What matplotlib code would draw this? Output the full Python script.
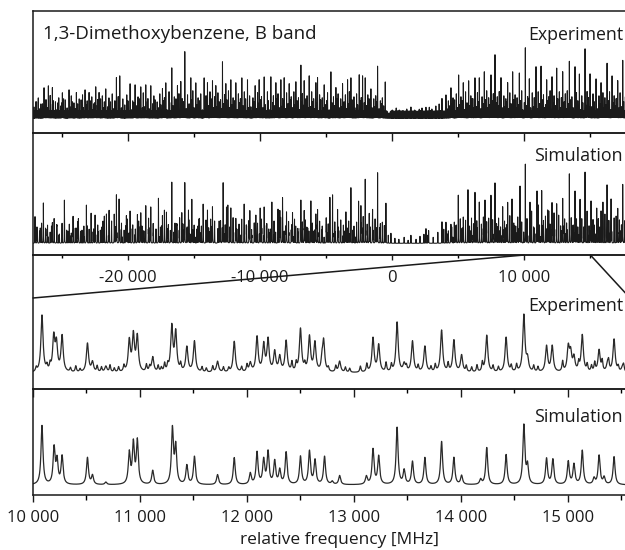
import numpy as np
import matplotlib
matplotlib.use("Agg")
import matplotlib.pyplot as plt
from matplotlib.patches import ConnectionPatch
from matplotlib.ticker import MultipleLocator, FuncFormatter

plt.rcParams['font.family'] = ['Open Sans', 'DejaVu Sans']

# ---- data: (frequency MHz, peak height) ----
# full band, experiment
exp_full_peaks = [(-26364, 28), (-26036, 30), (-25733, 29), (-24975, 23), (-24470, 26), (-23915, 24),
                  (-23258, 26), (-22955, 24), (-22450, 29), (-22197, 24), (-21692, 27), (-20884, 38),
                  (-20631, 41), (-19849, 33), (-19470, 31), (-19040, 29), (-18662, 31), (-18283, 31),
                  (-17399, 28), (-17146, 33), (-16692, 48), (-16263, 31), (-16010, 34), (-15707, 66),
                  (-15252, 38), (-14874, 33), (-14243, 39), (-13990, 33), (-13611, 36), (-13359, 31),
                  (-12854, 54), (-12601, 33), (-12222, 36), (-11843, 34), (-11389, 39), (-10960, 36),
                  (-10379, 31), (-10076, 36), (-9697, 40), (-9192, 39), (-8813, 34), (-8434, 36),
                  (-8182, 38), (-7803, 33), (-7298, 34), (-6919, 52), (-6667, 36), (-6288, 40),
                  (-5783, 34), (-5657, 39), (-5152, 31), (-4646, 44), (-4267, 29), (-3763, 33),
                  (-3384, 36), (-3131, 39), (-2500, 41), (-2247, 41), (-2045, 39), (-1616, 27),
                  (-1111, 51), (-530, 34), (530, 6), (1414, 9), (2045, 7), (2551, 9), (2803, 9),
                  (3763, 18), (4066, 21), (4444, 28), (5025, 42), (5379, 34), (5783, 36), (6263, 39),
                  (6591, 39), (6970, 44), (7475, 42), (7778, 61), (8232, 38), (8737, 34), (9116, 44),
                  (9621, 44), (10076, 68), (10379, 38), (10884, 49), (11263, 51), (11692, 36),
                  (12096, 39), (12449, 49), (12904, 44), (13409, 56), (13838, 49), (14167, 43),
                  (14596, 67), (14975, 43), (15429, 38), (15808, 33), (16263, 54), (16641, 41),
                  (17071, 36), (17449, 57)]
exp_full_minor = [(-27000, 14), (-26800, 18), (-26600, 12), (-26200, 16), (-25900, 20), (-25500, 14),
                  (-25250, 18), (-25000, 12), (-24750, 16), (-24300, 20), (-24100, 13), (-23700, 17),
                  (-23450, 21), (-23100, 15), (-22750, 19), (-22600, 12), (-22300, 16), (-21950, 20),
                  (-21800, 14), (-21450, 18), (-21200, 22), (-21000, 15), (-20750, 19), (-20400, 17),
                  (-20100, 21), (-19650, 15), (-19250, 19), (-18850, 23), (-18500, 17), (-18050, 20),
                  (-17800, 14), (-17600, 22), (-17250, 18), (-16900, 24), (-16500, 19), (-16150, 22),
                  (-15900, 17), (-15500, 21), (-15100, 25), (-14700, 18), (-14500, 22), (-14100, 20),
                  (-13800, 24), (-13450, 19), (-13200, 23), (-13000, 16), (-12700, 21), (-12400, 25),
                  (-12050, 18), (-11650, 22), (-11500, 17), (-11200, 24), (-10800, 20), (-10550, 18),
                  (-10200, 23), (-9900, 19), (-9450, 24), (-9000, 20), (-8650, 22), (-8300, 17),
                  (-8000, 23), (-7650, 19), (-7450, 24), (-7100, 18), (-6800, 22), (-6450, 20),
                  (-6100, 24), (-5950, 17), (-5500, 21), (-5300, 18), (-4900, 23), (-4450, 19),
                  (-4100, 22), (-3900, 17), (-3550, 21), (-3250, 24), (-2900, 19), (-2700, 22),
                  (-2350, 18), (-1850, 21), (-1400, 17), (-1250, 20), (-900, 15), (-750, 18),
                  (0, 6), (300, 8), (800, 5), (1100, 7), (1700, 6), (2250, 8), (3000, 7), (3300, 10),
                  (3550, 12), (4250, 15), (4600, 18), (4850, 22), (5200, 19), (5550, 24), (5950, 20),
                  (6100, 17), (6450, 23), (6800, 19), (7150, 25), (7300, 18), (7650, 22), (7950, 19),
                  (8100, 24), (8450, 20), (8600, 17), (8900, 23), (9300, 21), (9450, 18), (9800, 25),
                  (10250, 19), (10600, 23), (10750, 18), (11050, 24), (11450, 21), (11850, 19),
                  (11950, 25), (12250, 20), (12650, 24), (12800, 18), (13100, 22), (13250, 25),
                  (13600, 19), (13950, 23), (14350, 20), (14750, 24), (14850, 18), (15200, 22),
                  (15650, 20), (15950, 23), (16100, 18), (16450, 24), (16800, 20), (16950, 17),
                  (17250, 23), (17650, 19), (17850, 22)]
exp_full_weak = [(-27130, 9), (-26930, 14), (-26720, 7), (-26480, 12), (-26300, 16), (-26120, 8),
                 (-25870, 11), (-25660, 15), (-25460, 6), (-25310, 13), (-25080, 10), (-24880, 17),
                 (-24620, 8), (-24410, 9), (-24210, 14), (-23990, 7), (-23820, 12), (-23560, 16),
                 (-23380, 8), (-23170, 11), (-22870, 15), (-22680, 6), (-22520, 13), (-22330, 10),
                 (-22080, 17), (-21870, 8), (-21560, 9), (-21330, 14), (-21110, 7), (-20920, 12),
                 (-20700, 16), (-20510, 8), (-20250, 11), (-20010, 15), (-19760, 6), (-19560, 13),
                 (-19380, 10), (-19150, 17), (-18920, 8), (-18740, 9), (-18540, 14), (-18400, 7),
                 (-18150, 12), (-17950, 16), (-17700, 8), (-17520, 11), (-17320, 15), (-17050, 6),
                 (-16850, 13), (-16600, 10), (-16380, 17), (-16200, 8), (-15980, 9), (-15820, 14),
                 (-15600, 7), (-15380, 12), (-15170, 16), (-15000, 8), (-14780, 11), (-14590, 15),
                 (-14380, 6), (-14160, 13), (-13930, 10), (-13720, 17), (-13530, 8), (-13290, 9),
                 (-13100, 14), (-12940, 7), (-12760, 12), (-12520, 16), (-12300, 8), (-12130, 11),
                 (-11950, 15), (-11740, 6), (-11560, 13), (-11300, 10), (-11100, 17), (-10890, 8),
                 (-10700, 9), (-10480, 14), (-10280, 7), (-10130, 12), (-9950, 16), (-9800, 8),
                 (-9600, 11), (-9380, 15), (-9250, 6), (-9060, 13), (-8900, 10), (-8720, 17),
                 (-8550, 8), (-8380, 9), (-8250, 14), (-8100, 7), (-7900, 12), (-7720, 16),
                 (-7550, 8), (-7380, 11), (-7200, 15), (-7030, 6), (-6860, 13), (-6720, 10),
                 (-6540, 17), (-6380, 8), (-6200, 9), (-6020, 14), (-5870, 7), (-5700, 12),
                 (-5420, 16), (-5230, 8), (-5050, 11), (-4960, 15), (-4780, 6), (-4560, 13),
                 (-4380, 10), (-4200, 17), (-4010, 8), (-3830, 9), (-3650, 14), (-3470, 7),
                 (-3310, 12), (-3050, 16), (-2830, 8), (-2620, 11), (-2430, 15), (-2300, 6),
                 (-2120, 13), (-1950, 10), (-1750, 17), (-1520, 8), (-1330, 9), (-1180, 14),
                 (-1000, 7), (-820, 12), (-650, 10),
                 (4150, 7), (4350, 10), (4520, 12), (4720, 16), (4930, 8), (5120, 11), (5290, 15),
                 (5470, 6), (5660, 13), (5870, 10), (6050, 17), (6200, 8), (6370, 9), (6520, 14),
                 (6700, 7), (6880, 12), (7060, 16), (7230, 8), (7390, 11), (7560, 15), (7720, 6),
                 (7870, 13), (8050, 10), (8170, 17), (8320, 8), (8530, 9), (8680, 14), (8820, 7),
                 (9000, 12), (9200, 16), (9380, 8), (9530, 11), (9720, 15), (9880, 6), (10000, 13),
                 (10160, 10), (10300, 17), (10480, 8), (10680, 9), (10820, 14), (10980, 7),
                 (11150, 12), (11350, 16), (11530, 8), (11620, 11), (11780, 15), (12000, 6),
                 (12170, 13), (12350, 10), (12530, 17), (12720, 8), (12860, 9), (13020, 14),
                 (13180, 7), (13330, 12), (13520, 16), (13700, 8), (13900, 11), (14050, 15),
                 (14250, 6), (14430, 13), (14680, 10), (14800, 17), (14930, 8), (15100, 9),
                 (15300, 14), (15520, 7), (15730, 12), (15880, 16), (16030, 8), (16180, 11),
                 (16350, 15), (16550, 6), (16720, 13), (16880, 10), (17020, 17), (17180, 8),
                 (17340, 9), (17520, 14), (17730, 7), (17920, 12)]

# full band, simulation
sim_full_peaks = [(-27046, 18), (-26414, 34), (-25733, 21), (-24823, 41), (-24167, 27), (-23763, 23),
                  (-23157, 39), (-22500, 28), (-21641, 30), (-21439, 31), (-20884, 48), (-20682, 44),
                  (-20129, 28), (-19849, 33), (-19293, 28), (-19040, 30), (-18662, 35), (-18283, 37),
                  (-17702, 26), (-17399, 28), (-17096, 31), (-16692, 61), (-15934, 30), (-15707, 62),
                  (-15429, 33), (-15177, 45), (-14621, 23), (-14318, 34), (-13990, 33), (-13611, 37),
                  (-13106, 22), (-12803, 62), (-12551, 37), (-12222, 33), (-11843, 25), (-11212, 38),
                  (-10783, 33), (-10328, 28), (-10000, 35), (-9697, 37), (-9116, 41), (-8510, 32),
                  (-8308, 32), (-8005, 31), (-7551, 31), (-6919, 44), (-6667, 32), (-6162, 42),
                  (-5783, 28), (-5657, 34), (-4722, 43), (-4520, 48), (-4141, 30), (-3510, 28),
                  (-3131, 57), (-2374, 35), (-2045, 60), (-1742, 25), (-1490, 28), (-1111, 60),
                  (-480, 40), (-100, 10), (1414, 8), (2551, 15), (2753, 13), (3763, 22), (4066, 21),
                  (4444, 18), (5000, 38), (5379, 26), (5732, 39), (6263, 46), (6591, 33), (7020, 43),
                  (7475, 47), (7778, 58), (8359, 37), (8737, 40), (9066, 40), (9672, 57), (10076, 71),
                  (10429, 42), (10960, 52), (11313, 54), (11768, 33), (12096, 40), (12449, 40),
                  (12904, 44), (13409, 69), (13838, 52), (14217, 45), (14596, 71), (15050, 42),
                  (15480, 35), (15808, 30), (16263, 57), (16566, 42), (17071, 35), (17449, 60)]
sim_full_minor = [(-27050, 10), (-26900, 16), (-26700, 12), (-26550, 20), (-26250, 14), (-26100, 18),
                  (-25900, 11), (-25600, 22), (-25400, 15), (-25200, 9), (-25000, 17), (-24650, 13),
                  (-24450, 19), (-24300, 10), (-24000, 15), (-23800, 21), (-23600, 12), (-23350, 17),
                  (-22950, 14), (-22800, 20), (-22650, 11), (-22300, 18), (-22100, 13), (-21900, 22),
                  (-21800, 15), (-21450, 10), (-21250, 19), (-21050, 25), (-20950, 16), (-20500, 20),
                  (-20300, 13), (-20050, 24), (-19650, 18), (-19450, 14), (-19200, 22), (-18950, 17),
                  (-18800, 12), (-18450, 24), (-18100, 19), (-17900, 13), (-17700, 21), (-17550, 16),
                  (-17250, 23), (-16950, 18), (-16800, 12), (-16450, 20), (-16300, 14), (-16100, 25),
                  (-15850, 19), (-15550, 13), (-15400, 22), (-15000, 18), (-14800, 14), (-14600, 23),
                  (-14450, 17), (-14100, 21), (-13900, 15), (-13750, 24), (-13450, 19), (-13200, 14),
                  (-13000, 22), (-12650, 18), (-12450, 25), (-12300, 16), (-12050, 21), (-11800, 14),
                  (-11600, 19), (-11400, 24), (-11050, 17), (-10850, 22), (-10650, 13), (-10450, 20),
                  (-10200, 16), (-9900, 23), (-9500, 19), (-9350, 14), (-8950, 22), (-8650, 18),
                  (-8450, 25), (-8300, 20), (-8050, 15), (-7850, 21), (-7600, 18), (-7400, 24),
                  (-7150, 14), (-6800, 19), (-6600, 23), (-6400, 15), (-6050, 20), (-5850, 13),
                  (-5500, 22), (-5300, 17), (-5000, 24), (-4850, 19), (-4350, 21), (-4100, 15),
                  (-3900, 23), (-3700, 18), (-3500, 12), (-3300, 22), (-2900, 17), (-2700, 21),
                  (-2550, 25), (-2400, 19), (-2200, 26), (-1900, 18), (-1750, 13), (-1500, 21),
                  (-1300, 24), (-1200, 15), (-900, 19), (-750, 12), (-600, 17), (-300, 8),
                  (200, 5), (500, 4), (900, 6), (1200, 3), (1800, 4), (2100, 7), (2400, 9), (2700, 8),
                  (3100, 6), (3450, 11), (3900, 14), (4250, 12), (4500, 16), (4700, 21), (4850, 18),
                  (5150, 24), (5300, 15), (5550, 20), (5850, 17), (6000, 25), (6150, 19), (6400, 22),
                  (6750, 18), (6900, 26), (7150, 20), (7300, 15), (7600, 23), (7900, 19), (8050, 25),
                  (8200, 16), (8500, 22), (8650, 18), (8900, 24), (9200, 20), (9350, 17), (9500, 26),
                  (9800, 19), (10200, 24), (10550, 20), (10700, 16), (11050, 25), (11150, 18),
                  (11450, 22), (11600, 17), (11850, 24), (11950, 19), (12250, 26), (12600, 21),
                  (12750, 17), (13050, 24), (13200, 20), (13550, 25), (13700, 18), (13950, 23),
                  (14050, 16), (14350, 24), (14750, 20), (14900, 17), (15200, 23), (15300, 18),
                  (15600, 21), (15700, 16), (15950, 24), (16100, 19), (16400, 22), (16550, 17),
                  (16800, 21), (16950, 15), (17200, 23), (17350, 18), (17600, 20), (17800, 16),
                  (17950, 22)]
sim_full_weak = [(-27060, 7), (-26860, 12), (-26650, 15), (-26410, 9), (-26230, 13), (-26050, 6),
                 (-25800, 17), (-25590, 10), (-25390, 14), (-25240, 8), (-25010, 11), (-24810, 16),
                 (-24550, 12), (-24340, 7), (-24140, 12), (-23920, 15), (-23750, 9), (-23490, 13),
                 (-23310, 6), (-23100, 17), (-22800, 10), (-22610, 14), (-22450, 8), (-22260, 11),
                 (-22010, 16), (-21800, 12), (-21490, 7), (-21260, 12), (-21040, 15), (-20850, 9),
                 (-20630, 13), (-20440, 6), (-20180, 17), (-19940, 10), (-19690, 14), (-19490, 8),
                 (-19310, 11), (-19080, 16), (-18850, 12), (-18670, 7), (-18470, 12), (-18330, 15),
                 (-18080, 9), (-17880, 13), (-17630, 6), (-17450, 17), (-17250, 10), (-16980, 14),
                 (-16780, 8), (-16530, 11), (-16310, 16), (-16130, 12), (-15910, 7), (-15750, 12),
                 (-15530, 15), (-15310, 9), (-15100, 13), (-14930, 6), (-14710, 17), (-14520, 10),
                 (-14310, 14), (-14090, 8), (-13860, 11), (-13650, 16), (-13460, 12), (-13220, 7),
                 (-13030, 12), (-12870, 15), (-12690, 9), (-12450, 13), (-12230, 6), (-12060, 17),
                 (-11880, 10), (-11670, 14), (-11490, 8), (-11230, 11), (-11030, 16), (-10820, 12),
                 (-10630, 7), (-10410, 12), (-10210, 15), (-10060, 9), (-9880, 13), (-9730, 6),
                 (-9530, 17), (-9310, 10), (-9180, 14), (-8990, 8), (-8830, 11), (-8650, 16),
                 (-8480, 12), (-8310, 7), (-8180, 12), (-8030, 15), (-7830, 9), (-7650, 13),
                 (-7480, 6), (-7310, 17), (-7130, 10), (-6960, 14), (-6790, 8), (-6650, 11),
                 (-6470, 16), (-6310, 12), (-6130, 7), (-5950, 12), (-5800, 15), (-5630, 9),
                 (-5350, 13), (-5160, 6), (-4980, 17), (-4890, 10), (-4710, 14), (-4490, 8),
                 (-4310, 11), (-4130, 16), (-3940, 12), (-3760, 7), (-3580, 12), (-3400, 15),
                 (-3240, 9), (-2980, 13), (-2760, 6), (-2550, 17), (-2360, 10), (-2230, 14),
                 (-2050, 8), (-1880, 11), (-1680, 16), (-1450, 12), (-1260, 7), (-1110, 12),
                 (-930, 15), (-750, 9), (-580, 8),
                 (4220, 9), (4420, 13), (4590, 6), (4790, 17), (5000, 10), (5190, 14), (5360, 8),
                 (5540, 11), (5730, 16), (5940, 12), (6120, 7), (6270, 12), (6440, 15), (6590, 9),
                 (6770, 13), (6950, 6), (7130, 17), (7300, 10), (7460, 14), (7630, 8), (7790, 11),
                 (7940, 16), (8120, 12), (8240, 7), (8390, 12), (8600, 15), (8750, 9), (8890, 13),
                 (9070, 6), (9270, 17), (9450, 10), (9600, 14), (9790, 8), (9950, 11), (10070, 16),
                 (10230, 12), (10370, 7), (10550, 12), (10750, 15), (10890, 9), (11050, 13),
                 (11220, 6), (11420, 17), (11600, 10), (11690, 14), (11850, 8), (12070, 11),
                 (12240, 16), (12420, 12), (12600, 7), (12790, 12), (12930, 15), (13090, 9),
                 (13250, 13), (13400, 6), (13590, 17), (13770, 10), (13970, 14), (14120, 8),
                 (14320, 11), (14500, 16), (14750, 12), (14870, 7), (15000, 12), (15170, 15),
                 (15370, 9), (15590, 13), (15800, 6), (15950, 17), (16100, 10), (16250, 14),
                 (16420, 8), (16620, 11), (16790, 16), (16950, 12), (17090, 7), (17250, 12),
                 (17410, 15), (17590, 9), (17800, 13), (17990, 6)]

# zoomed part 10 000 - 15 600 MHz
exp_zoom_peaks = [(10084, 57), (10194, 34), (10219, 27), (10272, 36), (10509, 29), (10556, 10),
                  (10681, 6), (10900, 31), (10938, 36), (10975, 35), (11119, 15), (11297, 45),
                  (11334, 39), (11438, 25), (11509, 31), (11725, 11), (11881, 31), (12031, 9),
                  (12094, 35), (12156, 27), (12197, 32), (12259, 20), (12306, 15), (12366, 31),
                  (12500, 43), (12584, 35), (12635, 29), (12716, 32), (12866, 11), (13178, 34),
                  (13231, 27), (13403, 50), (13469, 8), (13547, 31), (13663, 26), (13819, 42),
                  (13934, 32), (14006, 17), (14241, 37), (14422, 35), (14588, 57), (14622, 12),
                  (14800, 26), (14853, 26), (15003, 24), (15025, 18), (15056, 14), (15134, 37),
                  (15291, 22), (15370, 8), (15431, 33), (15510, 5)]
exp_zoom_small = [(10030, 4), (10130, 5), (10160, 6), (10350, 4), (10400, 6), (10440, 3), (10600, 6),
                  (10640, 5), (10720, 7), (10760, 4), (10800, 5), (10850, 6), (11060, 7), (11090, 5),
                  (11170, 6), (11200, 4), (11230, 8), (11260, 6), (11380, 7), (11580, 5), (11620, 4),
                  (11680, 6), (11780, 5), (11830, 4), (11950, 5), (12000, 7), (12420, 9), (12460, 8),
                  (12540, 6), (12700, 10), (12760, 4), (12830, 6), (12920, 5), (12960, 4), (13060, 6),
                  (13120, 8), (13300, 9), (13350, 7), (13490, 5), (13600, 6), (13720, 5), (13760, 7),
                  (13880, 8), (14050, 6), (14100, 5), (14150, 7), (14200, 9), (14300, 6), (14350, 5),
                  (14470, 6), (14520, 7), (14680, 6), (14720, 5), (14950, 10), (15100, 8), (15180, 7),
                  (15220, 6), (15250, 9), (15320, 10), (15380, 8), (15470, 5), (15520, 6)]
sim_zoom_peaks = [(10084, 59), (10197, 36), (10225, 23), (10272, 28), (10509, 27), (10556, 9),
                  (10681, 2.5), (10900, 31), (10938, 40), (10975, 43), (11119, 14), (11303, 55),
                  (11334, 37), (11438, 19), (11509, 28), (11725, 10), (11881, 27), (12031, 11),
                  (12094, 32), (12156, 24), (12197, 32), (12259, 23), (12306, 14), (12366, 32),
                  (12500, 28), (12584, 33), (12636, 24), (12725, 28), (12797, 3), (12866, 9),
                  (13116, 8), (13178, 35), (13231, 28), (13403, 57), (13469, 14), (13547, 23),
                  (13663, 27), (13819, 43), (13934, 27), (14006, 9), (14184, 5), (14241, 37),
                  (14422, 30), (14588, 59), (14622, 18), (14800, 26), (14859, 25), (15003, 23),
                  (15056, 20), (15134, 34), (15244, 6), (15291, 29), (15338, 7), (15431, 28)]

full_range = (-27200, 18000)
zoom_range = (10000, 15580)


def spectrum(f, peaks, hwhm):
    pos = np.array([p[0] for p in peaks], float)
    amp = np.array([p[1] for p in peaks], float)
    return (amp[:, None] / (1 + ((f[None, :] - pos[:, None]) / hwhm) ** 2)).sum(axis=0)


f_full = np.arange(full_range[0], full_range[1], 2.0)
f_zoom = np.arange(zoom_range[0], zoom_range[1], 1.0)
exp_full = (spectrum(f_full, exp_full_peaks, 6) + spectrum(f_full, exp_full_minor, 6)
            + spectrum(f_full, exp_full_weak, 6))
sim_full = (spectrum(f_full, sim_full_peaks, 6) + spectrum(f_full, sim_full_minor, 6)
            + spectrum(f_full, sim_full_weak, 6))
exp_zoom = spectrum(f_zoom, exp_zoom_peaks, 12) + spectrum(f_zoom, exp_zoom_small, 7)
sim_zoom = spectrum(f_zoom, sim_zoom_peaks, 11)

W, H = 625, 550
fig = plt.figure(figsize=(W / 100, H / 100), dpi=100)


def px_axes(top, bottom, left=33, right=630):
    return fig.add_axes([left / W, 1 - bottom / H, (right - left) / W, (bottom - top) / H])


ax1 = px_axes(11, 133)
ax2 = px_axes(133, 255)
ax3 = px_axes(255, 389)
ax4 = px_axes(389, 495)

col = '#1a1a1a'
for ax in (ax1, ax2, ax3, ax4):
    ax.set_facecolor('none')
    for s in ax.spines.values():
        s.set_linewidth(1.1)
        s.set_color(col)
    ax.tick_params(left=False, labelleft=False, colors=col)

# experimental noise floor shows as a dark band
ax1.plot(f_full, np.minimum(exp_full, 3), color=col, lw=4.2)
ax1.plot(f_full, exp_full, color=col, lw=0.75)
ax2.plot(f_full, sim_full, color=col, lw=0.75)
ax3.plot(f_zoom, exp_zoom, color='#2a2a2a', lw=0.9)
ax4.plot(f_zoom, sim_zoom, color='#2a2a2a', lw=0.9)

ax1.set_ylim(-17, 105)
ax2.set_ylim(-11.7, 110.3)
ax3.set_ylim(-16, 118)
ax4.set_ylim(-10, 96)

fmt = FuncFormatter(lambda v, p: f"{v:,.0f}".replace(",", " "))
for ax in (ax1, ax2):
    ax.set_xlim(*full_range)
    ax.xaxis.set_major_locator(MultipleLocator(10000))
    ax.xaxis.set_minor_locator(MultipleLocator(5000))
for ax in (ax3, ax4):
    ax.set_xlim(*zoom_range)
    ax.xaxis.set_major_locator(MultipleLocator(1000))
    ax.xaxis.set_minor_locator(MultipleLocator(500))

# ticks of upper panel poke down into the lower one
ax1.tick_params(axis='x', which='both', direction='out', labelbottom=False, width=1.0)
ax1.tick_params(axis='x', which='major', length=5.8)
ax1.tick_params(axis='x', which='minor', length=2.9)
ax3.tick_params(axis='x', which='both', direction='out', labelbottom=False, width=1.0)
ax3.tick_params(axis='x', which='major', length=5.8)
ax3.tick_params(axis='x', which='minor', length=3.1)

ax2.xaxis.set_major_formatter(fmt)
ax2.tick_params(axis='x', which='both', direction='out', width=1.0, labelsize=12, pad=7.5)
ax2.tick_params(axis='x', which='major', length=3.6)
ax2.tick_params(axis='x', which='minor', length=2.3)
ax4.xaxis.set_major_formatter(fmt)
ax4.tick_params(axis='x', which='both', direction='out', width=1.0, labelsize=12, pad=6)
ax4.tick_params(axis='x', which='major', length=5.0)
ax4.tick_params(axis='x', which='minor', length=3.6)

ax1.text(10 / 597, 0.81, '1,3-Dimethoxybenzene, B band', transform=ax1.transAxes,
         fontsize=13.5, ha='left', va='center', color=col)
for ax, label, yfrac in ((ax1, 'Experiment', 0.80), (ax2, 'Simulation', 0.81),
                         (ax3, 'Experiment', 0.62), (ax4, 'Simulation', 0.74)):
    ax.text(590 / 597, yfrac, label, transform=ax.transAxes, fontsize=12.8,
            ha='right', va='center', color=col)

fig.text(339 / W, 1 - 540 / H, 'relative frequency [MHz]', fontsize=12.5,
         ha='center', va='center', color=col)

# lines linking the zoomed interval
yb = (389 - 298) / (389 - 255)
for xa, xb in ((10000, zoom_range[0]), (15000, zoom_range[1])):
    con = ConnectionPatch(xyA=(xa, 0), coordsA=ax2.get_xaxis_transform(),
                          xyB=(xb, yb), coordsB=ax3.get_xaxis_transform(),
                          color=col, lw=1.1)
    fig.add_artist(con)

fig.savefig('out.png', dpi=100)
